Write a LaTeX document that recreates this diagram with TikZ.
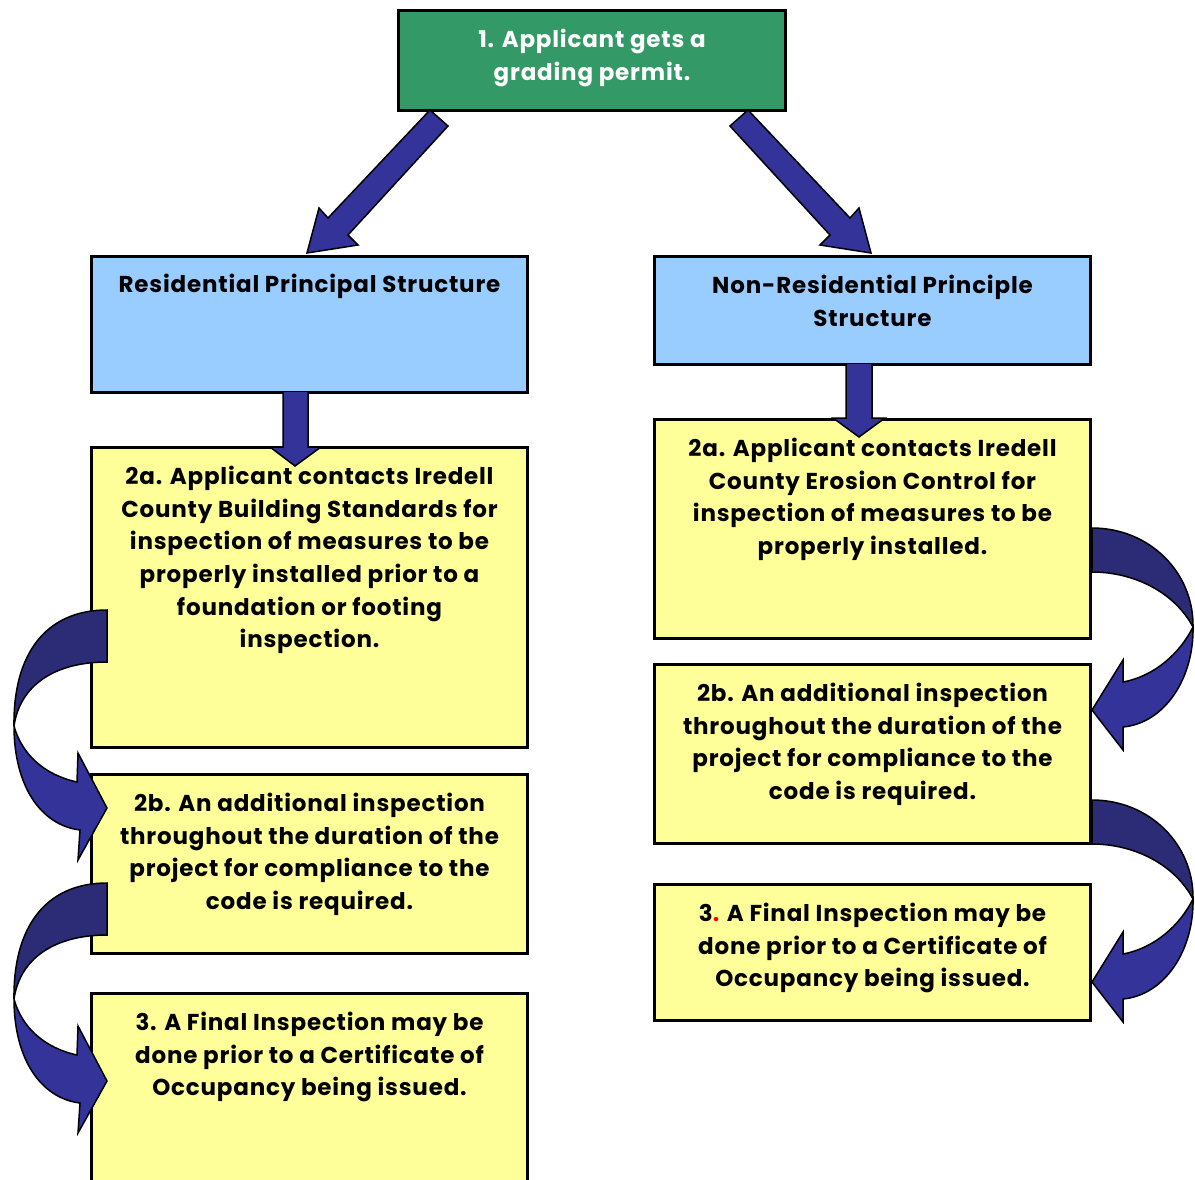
\documentclass[tikz,border=0pt]{standalone}
\usepackage{fontspec}
\setmainfont{Poppins}[LetterSpace=3.5]
\definecolor{gboxfill}{HTML}{339966}
\definecolor{bboxfill}{HTML}{99CCFF}
\definecolor{yboxfill}{HTML}{FFFF99}
\definecolor{arrblue}{HTML}{333399}
\definecolor{darkband}{HTML}{2C2C76}
\tikzset{
  box/.style={draw=black, line width=3pt, rectangle, inner sep=0pt, anchor=north west},
  txt/.style={font=\bfseries\fontsize{23}{32.6}\selectfont, align=center, anchor=north, inner sep=0pt},
  blockarrow/.style={fill=arrblue, draw=black, line width=1.5pt, line join=miter},
  backband/.style={fill=darkband, draw=black, line width=1.5pt},
  lcurve/.pic={
    \path[backband] (107,0) .. controls (45,0) and (13,45) .. (14,116)
      .. controls (20,75) and (55,52) .. (107,52) -- cycle;
    \path[blockarrow] (14,116) .. controls (14,175) and (40,215) .. (80,220)
      -- (78,250) -- (107,198) -- (78,143) -- (77,172)
      .. controls (45,165) and (22,145) .. (14,116) -- cycle;
  },
  rcurve/.pic={
    \path[backband] (1092,0) .. controls (1150,0) and (1194,45) .. (1193,99)
      .. controls (1175,65) and (1135,44) .. (1092,44) -- cycle;
    \path[blockarrow] (1193,99) .. controls (1194,150) and (1165,195) .. (1123,199)
      -- (1123,222) -- (1092,182) -- (1123,132) -- (1123,154)
      .. controls (1155,148) and (1180,125) .. (1193,99) -- cycle;
  }
}
\begin{document}
\begin{tikzpicture}[x=1pt,y=-1pt]
\clip (0,0) rectangle (1195,1179);
\fill[white] (0,0) rectangle (1195,1179);

% boxes
\node[box, fill=gboxfill, minimum width=387pt, minimum height=100pt] (top) at (397,9) {};
\node[box, fill=bboxfill, minimum width=436pt, minimum height=136pt] (res) at (90,255) {};
\node[box, fill=bboxfill, minimum width=436pt, minimum height=108pt] (nres) at (653,255) {};
\node[box, fill=yboxfill, minimum width=436pt, minimum height=300pt] (la) at (90,446) {};
\node[box, fill=yboxfill, minimum width=436pt, minimum height=179pt] (lb) at (90,773) {};
\node[box, fill=yboxfill, minimum width=436pt, minimum height=200pt] (lc) at (90,992) {};
\node[box, fill=yboxfill, minimum width=436pt, minimum height=219pt] (ra) at (653,418) {};
\node[box, fill=yboxfill, minimum width=436pt, minimum height=179pt] (rb) at (653,663) {};
\node[box, fill=yboxfill, minimum width=436pt, minimum height=136pt] (rc) at (653,883) {};

% texts
\node[txt, text=white] (ttop) at ([yshift=-20pt]top.north) {1. Applicant gets a\\grading permit.};
\node[txt] (tres) at ([yshift=-19pt]res.north) {Residential Principal Structure};
\node[txt] (tnres) at ([yshift=-20pt]nres.north) {Non-Residential Principle\\Structure};
\node[txt] (tla) at ([yshift=-20pt]la.north) {2a. Applicant contacts Iredell\\County Building Standards for\\inspection of measures to be\\properly installed prior to a\\foundation or footing\\inspection.};
\node[txt] (tlb) at ([yshift=-20pt]lb.north) {2b. An additional inspection\\throughout the duration of the\\project for compliance to the\\code is required.};
\node[txt] (tlc) at ([yshift=-20pt]lc.north) {3. A Final Inspection may be\\done prior to a Certificate of\\Occupancy being issued.};
\node[txt] (tra) at ([yshift=-20pt]ra.north) {2a. Applicant contacts Iredell\\County Erosion Control for\\inspection of measures to be\\properly installed.};
\node[txt] (trb) at ([yshift=-20pt]rb.north) {2b. An additional inspection\\throughout the duration of the\\project for compliance to the\\code is required.};
\node[txt] (trc) at ([yshift=-20pt]rc.north) {3{\color{red}.} A Final Inspection may be\\done prior to a Certificate of\\Occupancy being issued.};

% straight block arrows
\path[blockarrow] (430,110) -- (448,126) -- (348,235) -- (358,245) -- (307,253) -- (319,208) -- (328,218) -- cycle;
\path[blockarrow] (748,110) -- (730,126) -- (830,235) -- (820,245) -- (871,253) -- (859,208) -- (850,218) -- cycle;
\path[blockarrow] (283,392) -- (283,447) -- (270,447) -- (295,466) -- (321,447) -- (308,447) -- (308,392);
\path[blockarrow] (846,364) -- (846,418) -- (833,418) -- (859,437) -- (885,418) -- (872,418) -- (872,364);

% curved block arrows
\pic at (0,610) {lcurve};
\pic at (0,883) {lcurve};
\pic at (0,528) {rcurve};
\pic at (0,800) {rcurve};
\end{tikzpicture}
\end{document}
